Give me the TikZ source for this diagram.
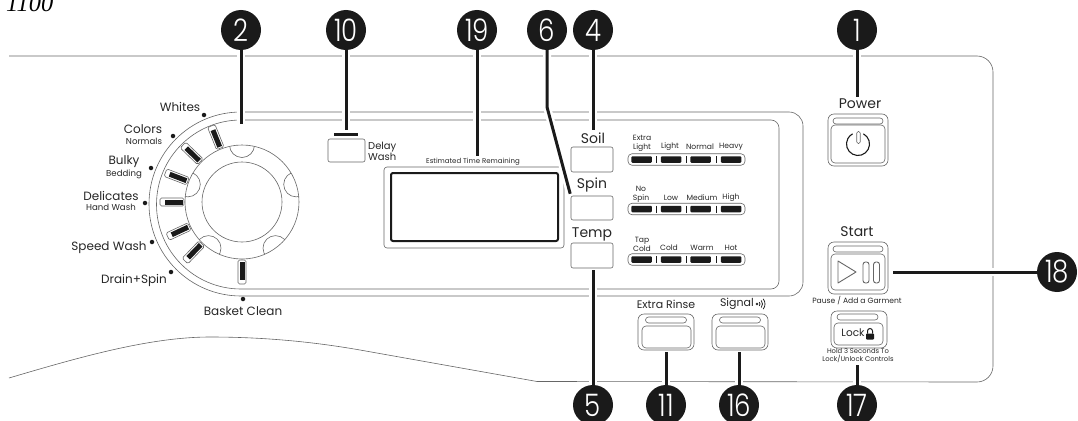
\documentclass[tikz,border=0pt]{standalone}
\usepackage{fontspec}
\setmainfont{Poppins}
\newfontfamily\modelfont{Liberation Serif}
\newfontfamily\calloutfont[FakeStretch=0.84]{Poppins Light}
\usetikzlibrary{positioning,calc}
\definecolor{panelgray}{HTML}{666666}
\definecolor{calloutblack}{HTML}{1A1A1A}

\begin{document}
\begin{tikzpicture}[x=1pt,y=-1pt,
    panel/.style={draw=panelgray,line width=0.6pt},
    callout/.style={circle,fill=calloutblack,text=white,minimum size=40pt,inner sep=0pt,font=\calloutfont\fontsize{31}{31}\selectfont},
    leader/.style={draw=calloutblack,line width=3pt,shorten >=2pt,preaction={draw=white,line width=8pt}},
    lab/.style={inner sep=0pt,text=black!85,align=center,font=\fontsize{14}{15}\selectfont},
    sublab/.style={inner sep=0pt,text=black!85,align=center,font=\fontsize{11}{11.5}\selectfont},
    finelab/.style={inner sep=0pt,text=black!85,align=center,font=\fontsize{7.6}{9}\selectfont},
    softkey/.style={panel,rounded corners=2pt,inner sep=0pt,minimum width=42pt},
    keyframe/.style={panel,rounded corners=6pt,inner sep=0pt},
    keypill/.style={panel,rounded corners=3pt,inner sep=0pt,minimum height=6pt},
    dialdot/.style={circle,fill=calloutblack,minimum size=4.5pt,inner sep=0pt},
    ticksleeve/.style={panel,fill=white,rounded corners=1.5pt,inner sep=0pt,minimum width=24pt,minimum height=8pt},
    tickbar/.style={fill=calloutblack,inner sep=0pt,minimum width=18pt,minimum height=5pt},
    barrow/.style={panel,rounded corners=4pt,inner sep=0pt,minimum width=117pt,minimum height=11.5pt},
    barseg/.style={fill=calloutblack,rounded corners=1pt,inner sep=0pt,minimum width=20.5pt,minimum height=6.5pt}]
  \useasboundingbox (0,0) rectangle (1078,420);

  % console outline
  \draw[panel] (9,56) -- (977,56) arc[start angle=90,end angle=0,radius=16pt] -- (993,366)
    arc[start angle=0,end angle=-90,radius=16pt] -- (537,381.5) -- (360,350)
    .. controls (320,343) and (270,337) .. (210,337) .. controls (150,337) and (80,357) .. (9,378);
  \draw[panel] (241,112) -- (789,112) arc[start angle=90,end angle=0,radius=14pt] -- (803,282)
    arc[start angle=0,end angle=-90,radius=14pt] -- (241,296)
    arc[start angle=270,end angle=90,radius=92pt];
  \draw[panel] (241,120) -- (771,120) arc[start angle=90,end angle=0,radius=8pt] -- (779,281)
    arc[start angle=0,end angle=-90,radius=8pt] -- (241,289)
    arc[start angle=270,end angle=90,radius=84.5pt];

  % dial
  \node[panel,circle,minimum size=114pt,inner sep=0pt] (dial) at (242,202) {};
  \node[panel,circle,minimum size=80pt,inner sep=0pt] (dialcap) at (242,202) {};
  \begin{scope}
    \clip (242,202) circle[radius=57pt];
    \foreach \a in {90,18,-54,-126,162}
      \draw[panel] ([shift={(\a:57pt)}]dial.center) circle[radius=12.5pt];
  \end{scope}
  \foreach \a [count=\i] in {112,136,159,180,205,226,270} {
    \node[ticksleeve,rotate=\a] (sleeve\i) at ([shift={(\a:70pt)}]dial.center) {};
    \node[tickbar,rotate=\a] (bar\i) at ([shift={(\a:68.5pt)}]dial.center) {};
  }
  \foreach \x/\y [count=\i] in {204/115,173/136,151/168,145/203,152/242,171/272,243/299}
    \node[dialdot] (dot\i) at (\x,\y) {};

  \node[sublab,font=\fontsize{12}{12}\selectfont] (whites) at (180,107) {Whites};
  \node[sublab,font=\fontsize{12}{12}\selectfont] (colors) at (143,129) {Colors};
  \node[finelab,font=\fontsize{8.6}{9}\selectfont] (normals) at (144,141) {Normals};
  \node[sublab,font=\fontsize{12}{12}\selectfont] (bulky) at (124,162) {Bulky};
  \node[finelab,font=\fontsize{8.6}{9}\selectfont] (bedding) at (124,174) {Bedding};
  \node[sublab,font=\fontsize{12}{12}\selectfont] (delicates) at (111,196) {Delicates};
  \node[finelab,font=\fontsize{8.6}{9}\selectfont] (handwash) at (111,207) {Hand Wash};
  \node[sublab,font=\fontsize{12}{12}\selectfont] (speedwash) at (109,248) {Speed Wash};
  \node[sublab,font=\fontsize{12}{12}\selectfont] (drainspin) at (134,280) {Drain+Spin};
  \node[sublab,font=\fontsize{12}{12}\selectfont] (basket) at (243,311) {Basket Clean};

  % delay and display
  \node[fill=calloutblack,inner sep=0pt,minimum width=24pt,minimum height=3pt] (delaybar) at (346,134) {};
  \node[softkey,minimum width=37pt,minimum height=23pt] (delay) at (346.5,150.5) {};
  \node[sublab,font=\fontsize{10}{11.5}\selectfont,align=left,anchor=west] (delaylab) at (368,151.5) {Delay\\Wash};
  \node[finelab,font=\fontsize{7}{8}\selectfont] (timelab) at (473,162) {Estimated Time Remaining};
  \node[panel,rounded corners=3pt,minimum width=180pt,minimum height=81pt,inner sep=0pt] (dispframe) at (474,207.5) {};
  \node[draw=calloutblack,line width=2pt,rounded corners=2pt,minimum width=167pt,minimum height=68pt,inner sep=0pt] (display) at (474.5,207) {};

  % cycle keys
  \node[lab] (soillab) at (593,138) {Soil};
  \node[softkey,minimum height=25pt] (soil) at (592,159.5) {};
  \node[lab] (spinlab) at (592,185) {Spin};
  \node[softkey,minimum height=24pt] (spin) at (592,208) {};
  \node[lab] (templab) at (592,234) {Temp};
  \node[softkey,minimum height=25pt] (temp) at (592,255.5) {};

  \foreach \r/\y in {soilrow/159.5,spinrow/209,temprow/259.5} {
    \node[barrow] (\r) at (686.5,\y) {};
    \foreach \x [count=\i] in {641.5,671,700.5,731}
      \node[barseg] (\r seg\i) at (\x,\y) {};
    \foreach \x in {656,686,716}
      \draw[calloutblack,line width=1pt] (\x,\y-3.5) -- (\x,\y+3.5);
  }
  \node[finelab] (extralight) at (642,143) {Extra\\Light};
  \node[finelab] (light) at (670,147) {Light};
  \node[finelab] (normal) at (700,147) {Normal};
  \node[finelab] (heavy) at (731,147) {Heavy};
  \node[finelab] (nospin) at (641,194.5) {No\\Spin};
  \node[finelab] (low) at (671,198) {Low};
  \node[finelab] (medium) at (702,198) {Medium};
  \node[finelab] (high) at (731,198) {High};
  \node[finelab] (tapcold) at (642,244) {Tap\\Cold};
  \node[finelab] (cold) at (669,248) {Cold};
  \node[finelab] (warm) at (702,248) {Warm};
  \node[finelab] (hot) at (731,248) {Hot};

  % lower keys
  \node[sublab] (rinselab) at (666,304) {Extra Rinse};
  \node[keyframe,minimum width=56pt,minimum height=36pt] (rinse) at (666,332) {};
  \node[keypill,minimum width=41pt] (rinsepill) at (666,320) {};
  \node[keyframe,rounded corners=4pt,minimum width=49pt,minimum height=22pt] (rinsebody) at (666.5,337) {};
  \node[sublab,anchor=east] (signallab) at (754,304) {Signal};
  \fill[black!85] ([xshift=3pt]signallab.east) circle[radius=1.4pt];
  \foreach \r in {3,5.5,8}
    \draw[black!85,line width=0.8pt] ([xshift=3pt]signallab.east) ++(-40:\r pt) arc[start angle=-40,end angle=40,radius=\r pt];
  \node[keyframe,minimum width=56pt,minimum height=36pt] (signal) at (740,332) {};
  \node[keypill,minimum width=41pt] (signalpill) at (740,320) {};
  \node[keyframe,rounded corners=4pt,minimum width=49pt,minimum height=22pt] (signalbody) at (740.5,337) {};

  \node[lab] (powerlab) at (860,104) {Power};
  \node[keyframe,minimum width=60pt,minimum height=52pt] (power) at (858,140) {};
  \node[keypill,minimum width=50pt] (powerpill) at (858,121) {};
  \node[keyframe,rounded corners=4pt,minimum width=54pt,minimum height=38pt] (powerbody) at (858,144) {};
  \draw[calloutblack,line width=1.1pt] ([shift={(62:11.5pt)}]powerbody.center) arc[start angle=62,end angle=-242,radius=11.5pt];
  \node[panel,fill=white,rounded corners=1.5pt,minimum width=3.5pt,minimum height=12pt,inner sep=0pt] (powerstem) at (858.5,137.5) {};

  \node[lab] (startlab) at (857,232) {Start};
  \node[keyframe,minimum width=60pt,minimum height=52pt] (start) at (858,268) {};
  \node[keypill,minimum width=50pt] (startpill) at (858,249) {};
  \node[keyframe,rounded corners=4pt,minimum width=54pt,minimum height=36pt] (startbody) at (858,272) {};
  \draw[panel,line width=0.9pt,line join=round] (838,261) -- (838,283) -- (856,272) -- cycle;
  \node[panel,line width=0.9pt,rounded corners=2.5pt,minimum width=6pt,minimum height=21pt,inner sep=0pt] (pausea) at (866,272.5) {};
  \node[panel,line width=0.9pt,rounded corners=2.5pt,minimum width=6pt,minimum height=21pt,inner sep=0pt] (pauseb) at (876.5,272.5) {};
  \node[finelab] (pauselab) at (857,301) {Pause / Add a Garment};

  \node[keyframe,minimum width=56pt,minimum height=37pt] (lock) at (859,329.5) {};
  \node[keypill,minimum width=41pt] (lockpill) at (857.5,317) {};
  \node[keyframe,rounded corners=4pt,minimum width=49pt,minimum height=22pt] (lockbody) at (858.5,334) {};
  \node[sublab,font=\fontsize{10.5}{11}\selectfont] (locklab) at (853,333) {Lock};
  \fill[calloutblack,rounded corners=0.8pt] (866,333.5) rectangle (874,339.5);
  \draw[calloutblack,line width=1pt] (867.5,333.5) -- (867.5,331) arc[start angle=180,end angle=0,radius=2.5pt] -- (872.5,333.5);
  \node[finelab,font=\fontsize{6.8}{8}\selectfont] (holdlab) at (858,356) {Hold 3 Seconds To\\Lock/Unlock Controls};

  % model number
  \node[inner sep=0pt,anchor=base west,font=\modelfont\itshape\fontsize{24.5}{25}\selectfont] (model) at (6,12) {1100};

  % callouts
  \coordinate (dialtop) at (241,126);
  \coordinate (spinbend) at (547,107);
  \node[callout] (c2) at (241,30) {2};
  \node[callout] (c10) at (346,30) {10};
  \node[callout] (c19) at (477,30) {19};
  \node[callout] (c6) at (547,30) {6};
  \node[callout] (c4) at (593,30) {4};
  \node[callout] (c1) at (857,30) {1};
  \node[callout] (c5) at (593,405) {5};
  \node[callout] (c11) at (666,405) {11};
  \node[callout] (c16) at (739,405) {16};
  \node[callout] (c17) at (857,405) {17};
  \node[callout] (c18) at (1057,272) {18};
  \draw[leader] (c2) -- (dialtop);
  \draw[leader] (c10) -- (c10 |- delaybar.north);
  \draw[leader] (c19) -- (c19 |- timelab.north);
  \draw[leader,line join=round] (c6) -- (spinbend) -- (spin.north west);
  \draw[leader] (c4) -- (c4 |- soillab.north);
  \draw[leader] (c1) -- (c1 |- powerlab.north);
  \draw[leader] (c5) -- (c5 |- temp.south);
  \draw[leader] (c11) -- (rinse.south);
  \draw[leader] (c16) -- (c16 |- signal.south);
  \draw[leader] (c17) -- (c17 |- holdlab.south);
  \draw[leader,shorten >=5pt,preaction={draw=none}] (c18) -- (start.east |- c18);
\end{tikzpicture}
\end{document}
